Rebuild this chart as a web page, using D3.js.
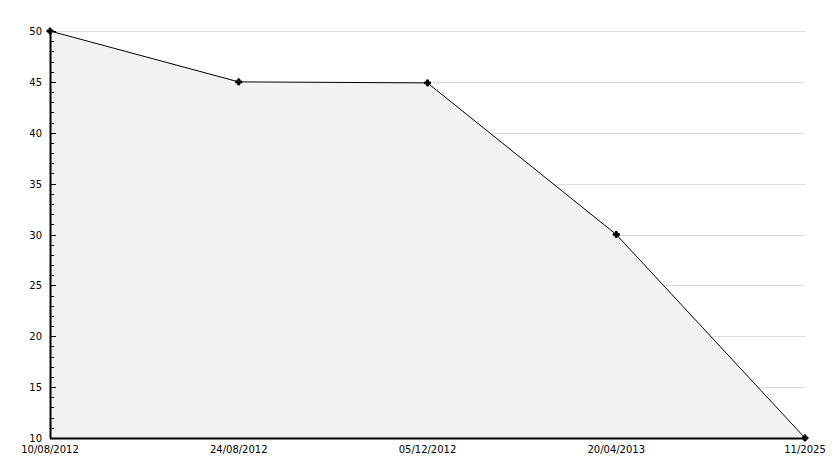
<!DOCTYPE html>
<html>
<head>
<meta charset="utf-8">
<script src="https://cdn.jsdelivr.net/npm/d3@7"></script>
<style>
  body { margin: 0; background: #fff; }
  svg text { font-family: "DejaVu Sans", sans-serif; font-size: 10px; fill: #000; }
</style>
</head>
<body>
<script>
// data
const dates = ['10/08/2012', '24/08/2012', '05/12/2012', '20/04/2013', '11/2025'];
const values = [50, 45, 44.9, 30, 10];
const yTicks = [10, 15, 20, 25, 30, 35, 40, 45, 50];

const width = 834, height = 468;
const margin = { top: 31, right: 29, bottom: 30, left: 50 };

const svg = d3.select('body').append('svg')
    .attr('width', width)
    .attr('height', height);

const x = d3.scalePoint()
    .domain(dates)
    .range([margin.left, width - margin.right]);

const y = d3.scaleLinear()
    .domain([10, 50])
    .range([height - margin.bottom, margin.top]);

// grid lines
svg.append('g')
  .selectAll('line')
  .data(yTicks.filter(d => d > 10))
  .join('line')
    .attr('x1', margin.left)
    .attr('x2', width - margin.right)
    .attr('y1', d => Math.round(y(d)) + 0.5)
    .attr('y2', d => Math.round(y(d)) + 0.5)
    .style('stroke', '#dcdcdc');

const pts = dates.map((d, i) => [x(d), y(values[i])]);

// area
const area = d3.area()
    .x(d => d[0])
    .y0(y(10))
    .y1(d => d[1]);

svg.append('path')
    .datum(pts)
    .attr('d', area)
    .style('fill', '#f2f2f2');

// line
svg.append('path')
    .datum(pts)
    .attr('d', d3.line())
    .style('fill', 'none')
    .style('stroke', '#000')
    .style('stroke-width', 1);

// y axis with minor ticks pointing inward
const yAxis = svg.append('g');
yAxis.append('line')
    .attr('x1', margin.left + 0.5).attr('x2', margin.left + 0.5)
    .attr('y1', y(50)).attr('y2', y(10))
    .style('stroke', '#000').style('stroke-width', 2);

yAxis.selectAll('.minor')
  .data(d3.range(10, 51).filter(v => v % 5 !== 0))
  .join('line')
    .attr('x1', margin.left)
    .attr('x2', margin.left + 4)
    .attr('y1', d => Math.round(y(d)) + 0.5)
    .attr('y2', d => Math.round(y(d)) + 0.5)
    .style('stroke', '#000');

yAxis.selectAll('.major')
  .data(yTicks)
  .join('line')
    .attr('x1', margin.left)
    .attr('x2', margin.left + 6)
    .attr('y1', d => Math.round(y(d)) + 0.5)
    .attr('y2', d => Math.round(y(d)) + 0.5)
    .style('stroke', '#000');

yAxis.selectAll('text')
  .data(yTicks)
  .join('text')
    .attr('x', margin.left - 8)
    .attr('y', d => y(d) + 4)
    .attr('text-anchor', 'end')
    .text(d => d);

// x axis
svg.append('line')
    .attr('x1', margin.left).attr('x2', width - margin.right)
    .attr('y1', y(10) + 0.5).attr('y2', y(10) + 0.5)
    .style('stroke', '#000').style('stroke-width', 2);

svg.append('g')
  .selectAll('text')
  .data(dates)
  .join('text')
    .attr('x', d => x(d))
    .attr('y', y(10) + 15)
    .attr('text-anchor', 'middle')
    .text(d => d);

// markers
svg.append('g')
  .selectAll('path')
  .data(pts)
  .join('path')
    .attr('transform', d => `translate(${d[0]},${d[1]})`)
    .attr('d', d3.symbol(d3.symbolCross, 20))
    .style('fill', '#000')
    .style('stroke', '#000')
    .style('stroke-width', 1);
</script>
</body>
</html>
